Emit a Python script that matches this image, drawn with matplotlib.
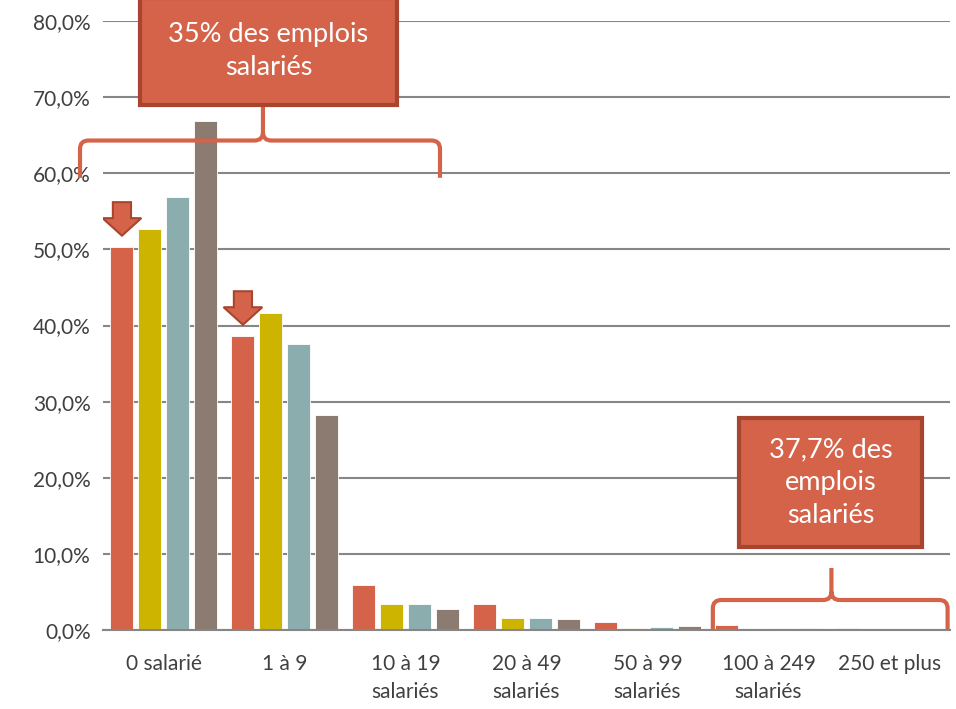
import numpy as np
import matplotlib.pyplot as plt
from matplotlib.path import Path
from matplotlib.patches import PathPatch, Rectangle, FancyArrow

# ======= Données =======
categories = ["0 salarié", "1 à 9", "10 à 19\nsalariés", "20 à 49\nsalariés",
              "50 à 99\nsalariés", "100 à 249\nsalariés", "250 et plus"]
serie_1 = [50.3, 38.6, 5.9, 3.4, 1.05, 0.6, 0.25]
serie_2 = [52.7, 41.7, 3.4, 1.6, 0.3, 0.05, 0.0]
serie_3 = [56.9, 37.6, 3.4, 1.6, 0.4, 0.2, 0.0]
serie_4 = [66.8, 28.3, 2.7, 1.5, 0.5, 0.2, 0.0]
series = [serie_1, serie_2, serie_3, serie_4]
colors = ["#D4634A", "#CDB400", "#8CADAE", "#8C7B70"]
yticks = np.arange(0, 81, 10)

RED = "#D4634A"
DARK = "#A8452F"

plt.rcParams['font.family'] = ['Lato', 'DejaVu Sans']

fig = plt.figure(figsize=(9.56, 7.09), dpi=100)
ax = fig.add_axes([103 / 956, 1 - 630 / 709, 847 / 956, 609 / 709])

x = np.arange(len(categories))
slot = 0.229
width = 0.19
for i, (vals, c) in enumerate(zip(series, colors)):
    ax.bar(x + (i - 1.5) * slot, vals, width=width, color=c,
           edgecolor="white", linewidth=0.6, zorder=3)

ax.set_xlim(-0.5, len(categories) - 0.5)
ax.set_ylim(0, 80)
ax.set_yticks(yticks)
ax.set_yticklabels([f"{v:.1f}%".replace(".", ",") for v in yticks])
ax.set_xticks(x)
ax.set_xticklabels(categories, linespacing=1.5)
ax.tick_params(axis="both", length=0, labelsize=15, colors="#404040")
ax.tick_params(axis="x", pad=17)
ax.tick_params(axis="y", pad=9)
ax.grid(axis="y", color="#868686", linewidth=1.5, zorder=0)
for s in ["top", "right", "left"]:
    ax.spines[s].set_visible(False)
ax.spines["bottom"].set_color("#868686")
ax.spines["bottom"].set_linewidth(1.5)
ax.spines["bottom"].set_zorder(4)


# ======= Accolades =======
def brace(x0, x1, xp, y0, yh, ytop, rx=0.07, ry=1.1):
    verts = [(x0, y0), (x0, yh - ry), (x0, yh), (x0 + rx, yh),
             (xp - rx, yh), (xp, yh), (xp, yh + ry), (xp, ytop),
             (xp, yh + ry), (xp, yh), (xp + rx, yh),
             (x1 - rx, yh), (x1, yh), (x1, yh - ry), (x1, y0)]
    codes = [Path.MOVETO, Path.LINETO, Path.CURVE3, Path.CURVE3,
             Path.LINETO, Path.CURVE3, Path.CURVE3, Path.LINETO,
             Path.MOVETO, Path.CURVE3, Path.CURVE3,
             Path.LINETO, Path.CURVE3, Path.CURVE3, Path.LINETO]
    p = PathPatch(Path(verts, codes), facecolor="none", edgecolor=RED,
                  linewidth=3, clip_on=False, zorder=5, capstyle="butt")
    ax.add_patch(p)


brace(-0.69, 2.285, 0.822, 59.4, 64.3, 69.0)
brace(4.54, 6.48, 5.52, 0.0, 3.94, 8.15)


# ======= Encadrés =======
def box(x0, x1, y0, y1, txt):
    r = Rectangle((x0, y0), x1 - x0, y1 - y0, facecolor=RED, edgecolor=DARK,
                  linewidth=3, clip_on=False, zorder=6)
    ax.add_patch(r)
    ax.text((x0 + x1) / 2, (y0 + y1) / 2, txt, ha="center", va="center",
            color="white", fontsize=19.5, linespacing=1.4, zorder=7)


box(-0.194, 1.93, 69.0, 83.0, "35% des emplois\nsalariés")
box(4.76, 6.27, 10.9, 27.86, "37,7% des\nemplois\nsalariés")

# ======= Flèches =======
for idx in [0, 1]:
    xa = x[idx] - 1.5 * slot
    tip = serie_1[idx] + 1.5
    ar = FancyArrow(xa, tip + 4.4, 0, -4.4, width=0.15, head_width=0.32,
                    head_length=2.3, length_includes_head=True,
                    facecolor=RED, edgecolor=DARK, linewidth=1.5, zorder=6)
    ax.add_patch(ar)

fig.savefig("out.png", dpi=100)
